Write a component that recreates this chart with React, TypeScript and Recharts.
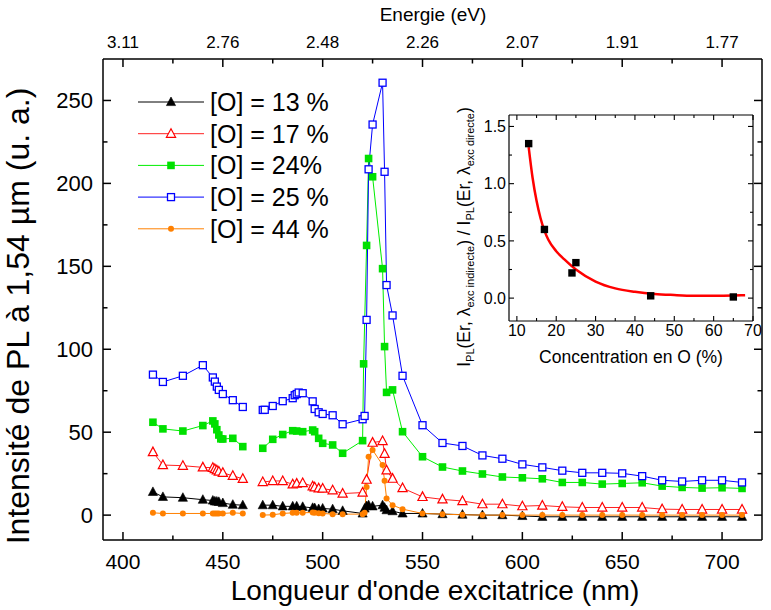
import React from 'react'
import { ComposedChart, Legend, Line, LineChart, Scatter, XAxis, YAxis } from 'recharts'

const FONT = "'Liberation Sans', Arial, Helvetica, sans-serif"

// ---- main chart: PL intensity vs excitation wavelength ----
const nm13 = [415, 420, 430, 440, 445, 446, 447, 448, 450, 455, 460, 465, 470, 475, 480, 485, 487, 490, 495, 496, 498, 500, 505, 510, 520, 521, 522, 523, 525, 530, 531, 532, 535, 540, 550, 560, 570, 580, 590, 600, 610, 620, 630, 640, 650, 660, 670, 680, 690, 700, 710]
const pl13 = [14, 11, 10.5, 9.3, 8.8, 8.3, 8.2, 8, 7.3, 6.3, 6, null, 6, 6, 5.3, 5.3, 5.3, 5, 4.4, 4.3, 3.7, 4, 3.6, 2.6, 1, 4, 5.5, 6, 5.3, 6, 4.5, 3, 2.4, 1, 1, 0.6, 0.3, 0, 0, -0.5, -1, -1, -1, -1, -1, -1, -1, -1, -1, -1, -1]

const nm17 = [415, 420, 430, 440, 445, 446, 447, 448, 450, 455, 460, 465, 470, 475, 480, 485, 487, 490, 495, 496, 498, 500, 505, 510, 520, 522, 525, 530, 531, 532, 535, 540, 550, 560, 570, 580, 590, 600, 610, 620, 630, 640, 650, 660, 670, 680, 690, 700, 710]
const pl17 = [38, 30.2, 29.8, 28.8, 28.6, 27.8, 27, 26.3, 25.5, 23.7, 21.9, null, 20, 20.6, 20.6, 18.6, 19, 19.4, 17.4, 16.8, 16.2, 16, 15, 13, 13.6, 21.4, 43.7, 44.7, 37, 27, 22, 16.3, 11, 9.5, 8.5, 6.6, 6.6, 5.4, 5.8, 5, 4.6, 4.6, 4.6, 4.6, 3.6, 3.4, 3.4, 3.4, 3.4]

const nm24 = [415, 420, 430, 440, 445, 446, 447, 448, 449, 450, 455, 460, 465, 470, 475, 480, 485, 487, 490, 495, 496, 498, 500, 505, 510, 520, 520.5, 522, 523, 525, 530, 531, 532, 535, 540, 550, 560, 570, 580, 590, 600, 610, 620, 630, 640, 650, 660, 670, 680, 690, 700, 710]
const pl24 = [56, 52, 50.7, 54, 56.8, 55, 51.5, 48.3, 46, 45.9, 46.3, 41.3, null, 40.3, 45.7, 48.6, 50.9, 50.7, 50.3, 51.3, 50.3, 46.3, 43.3, 42.3, 37.3, 44.9, 91.2, 162.6, 215, 204, 148.6, 101.6, 74, 75.5, 50.3, 35.2, 29, 26.6, 24.8, 23, 22.5, 21.9, 19.7, 19.7, 18.7, 19.1, 19.5, 17.5, 16.7, 16.3, 16.5, 16.1]

const nm25 = [415, 420, 430, 440, 445, 446, 447, 448, 450, 455, 460, 465, 470, 471, 475, 480, 485, 486, 487, 488, 490, 495, 496, 498, 500, 505, 510, 520, 521, 522, 523, 525, 530, 531, 532, 535, 540, 550, 560, 570, 580, 590, 600, 610, 620, 630, 640, 650, 660, 670, 680, 690, 700, 710]
const pl25 = [84.7, 80.3, 84, 90.4, 83, 80.5, 77.5, 75.5, 73, 69.3, 65.2, null, 63.4, 63.5, 65.8, 68.7, 70.5, 72.3, 73, 73.9, 73.5, 68.6, 64, 62, 61, 60.2, 54.8, 57.8, 59.8, 117.7, 208.5, 235.5, 260.7, 207, 138.7, 120.4, 84, 54.2, 43.5, 41.7, 36, 34, 30.6, 28.8, 26.8, 25.5, 25.5, 25.2, 23.5, 21, 20.3, 21, 21, 19.7]

const nm44 = [415, 420, 430, 440, 445, 446, 447, 448, 450, 455, 460, 465, 470, 475, 480, 485, 487, 490, 495, 496, 498, 500, 505, 510, 520, 521, 522, 523, 525, 530, 531, 532, 535, 540, 550, 560, 570, 580, 590, 600, 610, 620, 630, 640, 650, 660, 670, 680, 690, 700, 710]
const pl44 = [1.4, 1, 1, 1, 1, 1, 1, 1, 1, 1.4, 1, null, 0, 0.2, 1, 1.4, 1.4, 1.4, 1.6, 1.4, 1.2, 1, 0.6, 0.6, 0.6, 1.4, 17, 35.2, 39.3, 30.2, 20.7, 10, 6, 3.6, 1, 0.6, 0.2, 0, 0, 0, 0, 0, 0, 0, 0, 0, 0, 0, 0, 0, 0]

const wavelengthTicks = [400, 425, 450, 475, 500, 525, 550, 575, 600, 625, 650, 675, 700]
const energyLabels = ['3.11', '2.76', '2.48', '2.26', '2.07', '1.91', '1.77']
const intensityTicks = [0, 25, 50, 75, 100, 125, 150, 175, 200, 225, 250]

// ---- inset: ratio vs O concentration ----
const concO = [13, 17, 24, 25, 44, 65]
const ratio = [1.35, 0.6, 0.22, 0.31, 0.02, 0.01]
const fitX = [13, 14, 15, 16, 17, 18, 20, 22, 25, 30, 35, 40, 45, 50, 55, 60, 65, 68]
const fitY = [1.32, 1.05, 0.85, 0.7, 0.59, 0.51, 0.41, 0.34, 0.25, 0.145, 0.085, 0.055, 0.036, 0.027, 0.021, 0.02, 0.022, 0.025]
const concTicks = [10, 15, 20, 25, 30, 35, 40, 45, 50, 55, 60, 65, 70]
const ratioTicks = [0, 0.25, 0.5, 0.75, 1, 1.25, 1.5]

type Shape = 'triFill' | 'triOpen' | 'sqFill' | 'sqOpen' | 'circle'

// bottom/left and top/right axes share the same domain, so series can sit on either pair;
// splitting them keeps every axis referenced (Recharts skips axes nothing uses)
const series: {
  name: string
  nm: number[]
  pl: (number | null)[]
  color: string
  line: string
  shape: Shape
  xId: string
  yId: string
}[] = [
  { name: '[O] = 13 %', nm: nm13, pl: pl13, color: '#000000', line: '#000000', shape: 'triFill', xId: 'b', yId: 'l' },
  { name: '[O] = 17 %', nm: nm17, pl: pl17, color: '#ff0000', line: '#ff2020', shape: 'triOpen', xId: 'b', yId: 'l' },
  { name: '[O] = 24%', nm: nm24, pl: pl24, color: '#00e000', line: '#00ee00', shape: 'sqFill', xId: 'b', yId: 'l' },
  { name: '[O] = 25 %', nm: nm25, pl: pl25, color: '#0000ff', line: '#0000ff', shape: 'sqOpen', xId: 't', yId: 'r' },
  { name: '[O] = 44 %', nm: nm44, pl: pl44, color: '#ff8000', line: '#ff8000', shape: 'circle', xId: 't', yId: 'r' },
]

function Marker(p: { shape: Shape; color: string; cx: number; cy: number }) {
  const { shape, color, cx, cy } = p
  if (shape === 'triFill' || shape === 'triOpen') {
    const pts = `${cx},${cy - 5} ${cx - 4.6},${cy + 3.6} ${cx + 4.6},${cy + 3.6}`
    return shape === 'triFill' ? (
      <polygon points={pts} fill={color} stroke={color} strokeWidth={0.6} />
    ) : (
      <polygon points={pts} fill="#fff" stroke={color} strokeWidth={1.2} />
    )
  }
  if (shape === 'sqFill') return <rect x={cx - 3.8} y={cy - 3.8} width={7.6} height={7.6} fill={color} />
  if (shape === 'sqOpen')
    return <rect x={cx - 3.5} y={cy - 3.5} width={7} height={7} fill="#fff" stroke={color} strokeWidth={1.3} />
  return <circle cx={cx} cy={cy} r={3} fill={color} />
}

const makeDot = (shape: Shape, color: string) => (props: any) => {
  const { cx, cy, index, value } = props
  if (value == null || !Number.isFinite(cx) || !Number.isFinite(cy)) return <g key={index} />
  return (
    <g key={index}>
      <Marker shape={shape} color={color} cx={cx} cy={cy} />
    </g>
  )
}

// ticks drawn inward, labels outward
const bottomTick = (p: any) => {
  const v = p.payload.value
  const major = v % 50 === 0
  return (
    <g>
      <line x1={p.x} x2={p.x} y1={p.y} y2={p.y - (major ? 8 : 4.5)} stroke="#000" strokeWidth={1.5} />
      {major && (
        <text x={p.x} y={p.y + 29} textAnchor="middle" fontSize={21} fontFamily={FONT} fill="#000">
          {v}
        </text>
      )}
    </g>
  )
}

const topTick = (p: any) => {
  const v = p.payload.value
  const major = v % 50 === 0
  const label = energyLabels[(v - 400) / 50]
  return (
    <g>
      <line x1={p.x} x2={p.x} y1={p.y} y2={p.y + (major ? 8 : 4.5)} stroke="#000" strokeWidth={1.5} />
      {major && (
        <text x={p.x} y={p.y - 11} textAnchor="middle" fontSize={17} fontFamily={FONT} fill="#000">
          {label}
        </text>
      )}
    </g>
  )
}

const leftTick = (p: any) => {
  const v = p.payload.value
  const major = v % 50 === 0
  return (
    <g>
      <line x1={p.x} x2={p.x + (major ? 8 : 4.5)} y1={p.y} y2={p.y} stroke="#000" strokeWidth={1.5} />
      {major && (
        <text x={p.x - 10} y={p.y} dy="0.36em" textAnchor="end" fontSize={22} fontFamily={FONT} fill="#000">
          {v}
        </text>
      )}
    </g>
  )
}

const rightTick = (p: any) => {
  const major = p.payload.value % 50 === 0
  return <line x1={p.x} x2={p.x - (major ? 8 : 4.5)} y1={p.y} y2={p.y} stroke="#000" strokeWidth={1.5} />
}

const isHalf = (v: number) => Math.abs(v * 2 - Math.round(v * 2)) < 1e-6

const insetBottomTick = (p: any) => {
  const v = p.payload.value
  const major = v % 10 === 0
  return (
    <g>
      <line x1={p.x} x2={p.x} y1={p.y} y2={p.y - (major ? 5 : 3)} stroke="#000" strokeWidth={1.1} />
      {major && (
        <text x={p.x} y={p.y + 15} textAnchor="middle" fontSize={16} fontFamily={FONT} fill="#000">
          {v}
        </text>
      )}
    </g>
  )
}

const insetTopTick = (p: any) => {
  const major = p.payload.value % 10 === 0
  return <line x1={p.x} x2={p.x} y1={p.y} y2={p.y + (major ? 5 : 3)} stroke="#000" strokeWidth={1.1} />
}

const insetLeftTick = (p: any) => {
  const v = p.payload.value
  const major = isHalf(v)
  return (
    <g>
      <line x1={p.x} x2={p.x + (major ? 5 : 3)} y1={p.y} y2={p.y} stroke="#000" strokeWidth={1.1} />
      {major && (
        <text x={p.x - 3} y={p.y} dy="0.36em" textAnchor="end" fontSize={16} fontFamily={FONT} fill="#000">
          {v.toFixed(1)}
        </text>
      )}
    </g>
  )
}

const insetRightTick = (p: any) => {
  const major = isHalf(p.payload.value)
  return <line x1={p.x} x2={p.x - (major ? 5 : 3)} y1={p.y} y2={p.y} stroke="#000" strokeWidth={1.1} />
}

const renderLegend = () => (
  <svg width={250} height={160} style={{ display: 'block', overflow: 'visible' }}>
    {series.map((s, i) => {
      const cy = 22 + i * 31.7
      return (
        <g key={s.name}>
          <line x1={8} x2={74} y1={cy} y2={cy} stroke={s.line} strokeWidth={1} />
          <Marker shape={s.shape} color={s.color} cx={41} cy={cy} />
          <text x={80} y={cy + 9} fontSize={25} fontFamily={FONT} fill="#000">
            {s.name}
          </text>
        </g>
      )
    })}
  </svg>
)

export default function App() {
  const axisLine = { stroke: '#000', strokeWidth: 1.5 }
  const insetAxis = { stroke: '#000', strokeWidth: 1.2 }
  const fitData = fitX.map((x, i) => ({ x, y: fitY[i] }))
  const pointData = concO.map((x, i) => ({ x, y: ratio[i] }))

  // axes get a 1px size (0 would make Recharts skip them), margins take that into account
  return (
    <div style={{ position: 'absolute', left: 0, top: 0, width: 771, height: 610, background: '#fff' }}>
      <LineChart width={771} height={610} margin={{ top: 58, right: 8, bottom: 69, left: 102 }}>
        <XAxis
          xAxisId="b"
          type="number"
          dataKey="nm"
          domain={[390, 720]}
          allowDataOverflow
          ticks={wavelengthTicks}
          interval={0}
          height={1}
          tickSize={0}
          tickMargin={0}
          tickLine={false}
          axisLine={axisLine}
          tick={bottomTick}
        />
        <XAxis
          xAxisId="t"
          orientation="top"
          type="number"
          dataKey="nm"
          domain={[390, 720]}
          allowDataOverflow
          ticks={wavelengthTicks}
          interval={0}
          height={1}
          tickSize={0}
          tickMargin={0}
          tickLine={false}
          axisLine={axisLine}
          tick={topTick}
        />
        <YAxis
          yAxisId="l"
          type="number"
          domain={[-15, 275]}
          allowDataOverflow
          ticks={intensityTicks}
          interval={0}
          width={1}
          tickSize={0}
          tickMargin={0}
          tickLine={false}
          axisLine={axisLine}
          tick={leftTick}
        />
        <YAxis
          yAxisId="r"
          orientation="right"
          type="number"
          domain={[-15, 275]}
          allowDataOverflow
          ticks={intensityTicks}
          interval={0}
          width={1}
          tickSize={0}
          tickMargin={0}
          tickLine={false}
          axisLine={axisLine}
          tick={rightTick}
        />
        {series.map((s) => (
          <Line
            key={s.name}
            xAxisId={s.xId}
            yAxisId={s.yId}
            data={s.nm.map((nm, i) => ({ nm, v: s.pl[i] }))}
            dataKey="v"
            name={s.name}
            type="linear"
            stroke={s.line}
            strokeWidth={1}
            dot={makeDot(s.shape, s.color)}
            activeDot={false}
            connectNulls={false}
            isAnimationActive={false}
          />
        ))}
        <Legend
          layout="vertical"
          align="center"
          verticalAlign="middle"
          content={renderLegend}
          wrapperStyle={{ left: 130, top: 80, width: 250 }}
        />
      </LineChart>

      <div style={{ position: 'absolute', left: 420, top: 100 }}>
        <ComposedChart width={351} height={280} margin={{ top: 14, right: 17, bottom: 58, left: 88 }}>
          <XAxis
            xAxisId="b"
            type="number"
            dataKey="x"
            domain={[8, 70]}
            allowDataOverflow
            ticks={concTicks}
            interval={0}
            height={1}
            tickSize={0}
            tickMargin={0}
            tickLine={false}
            axisLine={insetAxis}
            tick={insetBottomTick}
          />
          <XAxis
            xAxisId="t"
            orientation="top"
            type="number"
            dataKey="x"
            domain={[8, 70]}
            allowDataOverflow
            ticks={concTicks}
            interval={0}
            height={1}
            tickSize={0}
            tickMargin={0}
            tickLine={false}
            axisLine={insetAxis}
            tick={insetTopTick}
          />
          <YAxis
            yAxisId="l"
            type="number"
            dataKey="y"
            domain={[-0.2, 1.6]}
            allowDataOverflow
            ticks={ratioTicks}
            interval={0}
            width={1}
            tickSize={0}
            tickMargin={0}
            tickLine={false}
            axisLine={insetAxis}
            tick={insetLeftTick}
          />
          <YAxis
            yAxisId="r"
            orientation="right"
            type="number"
            dataKey="y"
            domain={[-0.2, 1.6]}
            allowDataOverflow
            ticks={ratioTicks}
            interval={0}
            width={1}
            tickSize={0}
            tickMargin={0}
            tickLine={false}
            axisLine={insetAxis}
            tick={insetRightTick}
          />
          <Line
            xAxisId="b"
            yAxisId="l"
            data={fitData}
            dataKey="y"
            type="monotone"
            stroke="#ff0000"
            strokeWidth={2.5}
            dot={false}
            activeDot={false}
            isAnimationActive={false}
          />
          <Scatter
            xAxisId="t"
            yAxisId="r"
            data={pointData}
            dataKey="y"
            fill="#000"
            isAnimationActive={false}
            shape={(p: any) => <rect x={p.cx - 3.7} y={p.cy - 3.7} width={7.4} height={7.4} fill="#000" />}
          />
        </ComposedChart>
      </div>

      <svg
        width={771}
        height={610}
        style={{ position: 'absolute', left: 0, top: 0, pointerEvents: 'none' }}
        fontFamily={FONT}
      >
        <text x={435} y={600} textAnchor="middle" fontSize={28} fill="#000">
          Longueur d'onde excitatrice (nm)
        </text>
        <text x={29} y={316} textAnchor="middle" fontSize={32} fill="#000" transform="rotate(-90 29 316)">
          Intensité de PL à 1,54 µm (u. a.)
        </text>
        <text x={433} y={21} textAnchor="middle" fontSize={19} fill="#000">
          Energie (eV)
        </text>
        <text x={631} y={363} textAnchor="middle" fontSize={17.5} fill="#000">
          Concentration en O (%)
        </text>
        <text x={470} y={237} textAnchor="middle" fontSize={17.5} fill="#000" transform="rotate(-90 470 237)">
          I
          <tspan fontSize={11} dy={4}>PL</tspan>
          <tspan dy={-4}>(Er, λ</tspan>
          <tspan fontSize={11} dy={4}>exc indirecte</tspan>
          <tspan dy={-4}>) / I</tspan>
          <tspan fontSize={11} dy={4}>PL</tspan>
          <tspan dy={-4}>(Er, λ</tspan>
          <tspan fontSize={11} dy={4}>exc directe</tspan>
          <tspan dy={-4}>)</tspan>
        </text>
      </svg>
    </div>
  )
}
